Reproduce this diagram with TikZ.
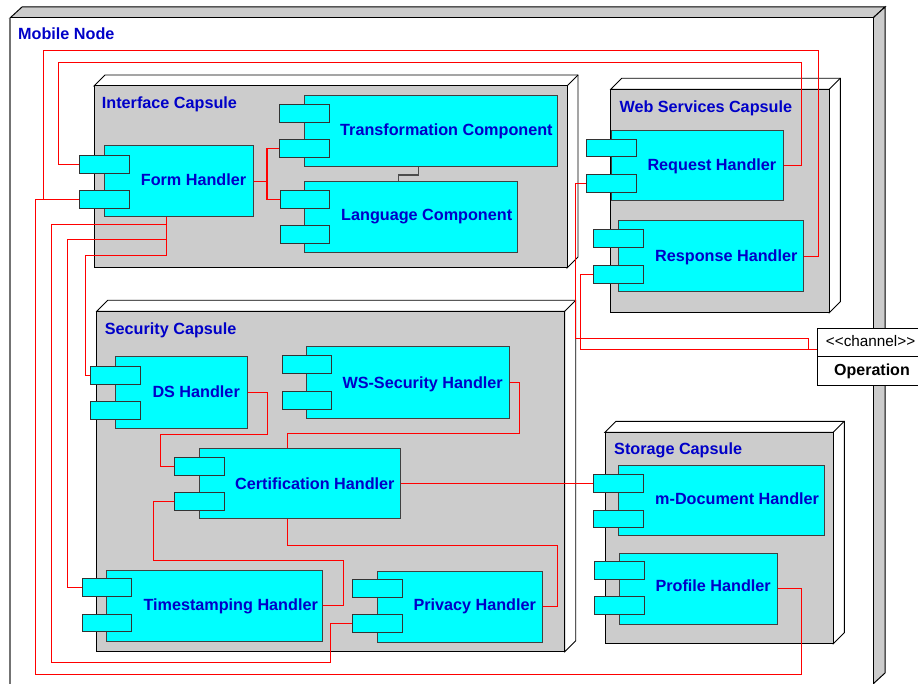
\documentclass[tikz,border=0pt]{standalone}
\usepackage{fontspec}
\setmainfont{Liberation Sans}
\usetikzlibrary{fit}
\definecolor{capgray}{RGB}{204,204,204}
\definecolor{lblue}{RGB}{0,0,200}
\definecolor{cyanfill}{RGB}{0,255,255}
\definecolor{wirered}{RGB}{255,0,0}
\pgfdeclarelayer{back}
\pgfdeclarelayer{wires}
\pgfsetlayers{back,wires,main}
\tikzset{
  compbox/.style={draw=black!75, fill=cyanfill, line width=1pt, inner sep=0pt},
  portbox/.style={draw=black!80, fill=cyanfill, line width=1pt, inner sep=0pt},
  lbl/.style={text=lblue, font=\bfseries\fontsize{16.2}{19}\selectfont, inner sep=0pt, anchor=base west},
  wire/.style={draw=wirered, line width=1.2pt},
  depline/.style={draw=black!70, line width=1.4pt},
  chanbox/.style={draw=black, fill=white, line width=1pt, inner sep=0pt},
}
\newcommand\capsulebox[5]{%
  \filldraw[fill=white, draw=black, line width=0.9pt] (#1,#2) -- (#1+#5,#2-#5) -- (#3+#5,#2-#5) -- (#3+#5,#4-#5) -- (#3,#4) -- (#3,#2) -- cycle;
  \draw[black, line width=0.9pt] (#3,#2) -- (#3+#5,#2-#5);
  \filldraw[fill=capgray, draw=black, line width=1pt] (#1,#2) rectangle (#3,#4);
}
\begin{document}
\begin{tikzpicture}[x=1pt,y=-1pt]
\useasboundingbox (0,0) rectangle (918,684);

% ---------- Mobile node and capsules (back layer) ----------
\begin{pgfonlayer}{back}
  \filldraw[fill=capgray, draw=black, line width=1pt] (10,18) -- (22,7) -- (885,7) -- (873,18) -- cycle;
  \filldraw[fill=capgray, draw=black, line width=1pt] (873,18) -- (885,7) -- (885,673) -- (873,684) -- cycle;
  \filldraw[fill=white, draw=black, line width=1pt] (10,18) rectangle (873,700);
  \draw[black!55, line width=1.5pt] (10,18) -- (10,690);
  \capsulebox{94}{86}{567}{268}{11}
  \capsulebox{610.7}{89.3}{829.3}{312.7}{11}
  \capsulebox{96.7}{311.3}{564.7}{651.7}{11}
  \capsulebox{605}{432.3}{833.3}{643.7}{11}
\end{pgfonlayer}

% ---------- components ----------
\node[compbox, fit={(304.3,95.3) (557.7,166.7)}] (tc) {};
\node[portbox, fit={(279,104.3) (329,122.3)}] (tc1) {};
\node[portbox, fit={(279,139.3) (329,157.7)}] (tc2) {};

\node[compbox, fit={(304.7,181.3) (517.3,252.3)}] (lc) {};
\node[portbox, fit={(280,190.5) (329.7,208.5)}] (lc1) {};
\node[portbox, fit={(280,225.7) (329.7,243.3)}] (lc2) {};

\node[compbox, fit={(104,146) (253,217)}] (fh) {};
\node[portbox, fit={(79.3,155.5) (129.3,173.5)}] (fh1) {};
\node[portbox, fit={(79.3,190.7) (129.3,208.3)}] (fh2) {};

\node[compbox, fit={(611,130.5) (783,200.5)}] (rq) {};
\node[portbox, fit={(586.7,139.3) (636.7,156.7)}] (rq1) {};
\node[portbox, fit={(586.7,174.5) (636.7,192.5)}] (rq2) {};

\node[compbox, fit={(618.3,221) (803.3,292)}] (rs) {};
\node[portbox, fit={(593.3,230) (643.3,247.7)}] (rs1) {};
\node[portbox, fit={(593.3,265.7) (643.3,283.3)}] (rs2) {};

\node[compbox, fit={(115.3,357) (247,428)}] (ds) {};
\node[portbox, fit={(90.7,366.75) (140.3,384.25)}] (ds1) {};
\node[portbox, fit={(90.7,401.5) (140.3,419)}] (ds2) {};

\node[compbox, fit={(306.7,347) (509,418)}] (ws) {};
\node[portbox, fit={(282,356) (331.7,373.7)}] (ws1) {};
\node[portbox, fit={(282,391.3) (331.7,409)}] (ws2) {};

\node[compbox, fit={(199.3,448.3) (400.3,518.7)}] (ct) {};
\node[portbox, fit={(174.3,457.75) (224.3,475.25)}] (ct1) {};
\node[portbox, fit={(174.3,492.75) (224.3,510.25)}] (ct2) {};

\node[compbox, fit={(106.7,570) (322.7,641)}] (ts) {};
\node[portbox, fit={(82,578.75) (131.7,596.25)}] (ts1) {};
\node[portbox, fit={(82,614) (131.7,631.7)}] (ts2) {};

\node[compbox, fit={(377.3,571) (542.3,642)}] (pv) {};
\node[portbox, fit={(352.3,579.3) (402,597.3)}] (pv1) {};
\node[portbox, fit={(352.3,614.7) (402,632.3)}] (pv2) {};

\node[compbox, fit={(618.7,465.7) (824,535.7)}] (md) {};
\node[portbox, fit={(593.3,474.3) (643.3,492)}] (md1) {};
\node[portbox, fit={(593.3,510) (643.3,527.5)}] (md2) {};

\node[compbox, fit={(619.3,553) (777.7,624)}] (pf) {};
\node[portbox, fit={(594.3,561.3) (644,579)}] (pf1) {};
\node[portbox, fit={(594.3,596.7) (644,614.3)}] (pf2) {};

% ---------- channel box ----------
\node[chanbox, fit={(817.7,328.3) (935,356.7)}] (ch) {};
\node[chanbox, fit={(817.7,356.7) (935,385)}] (opn) {};

% ---------- connectors ----------
\begin{pgfonlayer}{wires}
  \draw[wire] (fh.east) -- ++(13.5,0) |- (tc2.west);
  \draw[wire] (fh.east) -- ++(13.5,0) |- (lc1.west);
  \draw[wire] (fh1.west) -| (58.5,62.5) -- (801.5,62.5) |- (rq.east);
  \draw[wire] (fh2.west) -| (43.5,50.5) -- (818.5,50.5) |- (rs.east);
  \draw[wire] (fh2.west) -| (35.5,674.5) -- (801.5,674.5) |- (pf.east);
  \draw[wire] ([xshift=-12pt]fh.south) |- (85.5,255.5) |- (ds1.west);
  \draw[wire] ([xshift=-12pt]fh.south) |- (67.5,239.5) |- (ts1.west);
  \draw[wire] ([xshift=-12pt]fh.south) |- (51.5,224.5) |- (330.5,662.5) |- (pv2.west);
  \draw[wire] (ds.east) -| (267.5,434.5) -| (160.5,466.5) -- (ct1.west);
  \draw[wire] (ws.east) -| (519.5,433.5) -| ([xshift=-12.3pt]ct.north);
  \draw[wire] (ct.east) -- (ct.east -| md1.west);
  \draw[wire] ([xshift=-12.3pt]ct.south) |- (557.5,545.5) |- (pv.east);
  \draw[wire] (ct2.west) -| (153.5,560.5) -- (343.5,560.5) |- (ts.east);
  \draw[wire] (rq2.west) -| (575.5,338.5) -| (808.5,349.5) -- ([yshift=-7pt]ch.west);
  \draw[wire] (rs2.west) -| (580.5,349.5) -- ([yshift=-7pt]ch.west);
  \draw[depline] ([xshift=-12.5pt]tc.south) -- ++(0,7.8) -| ([xshift=-12.5pt]lc.north);
\end{pgfonlayer}

% ---------- labels ----------
\node[lbl] (mnL) at (18,40) {Mobile Node};
\node[lbl] (icL) at (101.7,108.3) {Interface Capsule};
\node[lbl] (wcL) at (619.3,112.3) {Web Services Capsule};
\node[lbl] (scL) at (104.7,335) {Security Capsule};
\node[lbl] (stL) at (614,454) {Storage Capsule};

\node[lbl] (tcL) at (340,136) {Transformation Component};
\node[lbl] (lcL) at (341,221) {Language Component};
\node[lbl] (fhL) at (140.7,186) {Form Handler};
\node[lbl] (rqL) at (647.3,171) {Request Handler};
\node[lbl] (rsL) at (655,262) {Response Handler};
\node[lbl] (dsL) at (152.3,397.7) {DS Handler};
\node[lbl] (wsL) at (342.3,388.3) {WS-Security Handler};
\node[lbl] (ctL) at (235,489) {Certification Handler};
\node[lbl] (tsL) at (143.3,610) {Timestamping Handler};
\node[lbl] (pvL) at (413.3,610.7) {Privacy Handler};
\node[lbl] (mdL) at (655,504.3) {m-Document Handler};
\node[lbl] (pfL) at (655.3,591.7) {Profile Handler};

\node[inner sep=0pt, anchor=base west, font=\fontsize{15.3}{18}\selectfont] (chL) at (825.7,346.7) {<\kern0pt<channel>\kern0pt>};
\node[inner sep=0pt, anchor=base west, font=\bfseries\fontsize{16}{19}\selectfont] (opL) at (834,376) {Operation};
\end{tikzpicture}
\end{document}
